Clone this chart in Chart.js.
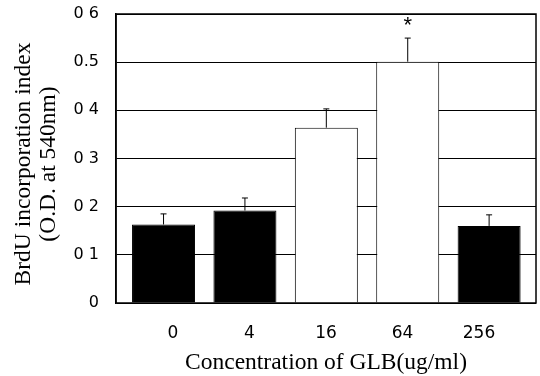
<!DOCTYPE html>
<html>
<head>
<meta charset="utf-8">
<script src="https://cdn.jsdelivr.net/npm/chart.js@4.4.1/dist/chart.umd.min.js"></script>
<style>
  html, body { margin: 0; padding: 0; background: #fff; }
  canvas { display: block; }
</style>
</head>
<body>
<canvas id="chart" width="540" height="376"></canvas>
<script>
// --- datos ---
const categories = ['0', '4', '16', '64', '256'];
const means = [0.163, 0.192, 0.364, 0.501, 0.160];
const errors = [0.022, 0.026, 0.039, 0.049, 0.023];
const barFill = ['#000', '#000', '#fff', '#fff', '#000'];
const starred = [false, false, false, true, false];
const yTickLabels = ['0', '0 1', '0 2', '0 3', '0 4', '0.5', '0 6'];

const yTitle = ['BrdU incorporation index', '(O.D. at 540nm)'];
const xTitle = 'Concentration of GLB(ug/ml)';

// en la figura las barras y las etiquetas no tienen el mismo paso,
// por eso hay dos ejes x (uno para barras, otro para etiquetas)
const X_BARS = { min: -0.584, max: 4.576 };
const X_LABELS = { min: -0.745, max: 4.745 };

const barData = means.map((v, i) => ({ x: i, y: v }));

// barras de error (solo hacia arriba) + asterisco
const errorBars = {
  id: 'errorBars',
  afterDatasetsDraw(chart) {
    const { ctx, scales: { y } } = chart;
    const meta = chart.getDatasetMeta(0);
    ctx.save();
    ctx.strokeStyle = '#000';
    ctx.lineWidth = 1;
    meta.data.forEach((bar, i) => {
      const y0 = y.getPixelForValue(means[i]);
      const y1 = y.getPixelForValue(means[i] + errors[i]);
      ctx.beginPath();
      ctx.moveTo(bar.x, y0);
      ctx.lineTo(bar.x, y1);
      ctx.moveTo(bar.x - 3, y1);
      ctx.lineTo(bar.x + 3, y1);
      ctx.stroke();
      if (starred[i]) {
        ctx.fillStyle = '#000';
        ctx.font = '22px "Liberation Sans"';
        ctx.textAlign = 'center';
        ctx.textBaseline = 'alphabetic';
        ctx.fillText('*', bar.x, y1 - 6);
      }
    });
    ctx.restore();
  }
};

// marco + títulos de ejes
const frameAndTitles = {
  id: 'frameAndTitles',
  afterDraw(chart) {
    const { ctx, chartArea: a } = chart;
    ctx.save();
    ctx.strokeStyle = '#000';
    ctx.lineWidth = 1.5;
    ctx.strokeRect(a.left, a.top, a.right - a.left, a.bottom - a.top);

    ctx.fillStyle = '#000';
    ctx.font = '23.5px "Liberation Serif"';
    ctx.textAlign = 'center';
    ctx.textBaseline = 'alphabetic';
    ctx.fillText(xTitle, 326, 369);

    ctx.translate(0, 164);
    ctx.rotate(-Math.PI / 2);
    ctx.fillText(yTitle[0], 0, 30);
    ctx.fillText(yTitle[1], 0, 55);
    ctx.restore();
  }
};

new Chart(document.getElementById('chart'), {
  type: 'bar',
  data: {
    datasets: [{
      data: barData,
      xAxisID: 'x',
      backgroundColor: barFill,
      borderColor: '#000',
      borderWidth: 1,
      barPercentage: 0.774,
      categoryPercentage: 1
    }]
  },
  options: {
    responsive: false,
    animation: false,
    layout: { padding: { top: 14, right: 4, left: 0, bottom: 0 } },
    plugins: { legend: { display: false }, tooltip: { enabled: false } },
    scales: {
      x: {
        type: 'linear',
        display: false,
        offset: false,
        min: X_BARS.min, max: X_BARS.max
      },
      x2: {
        type: 'linear',
        position: 'bottom',
        offset: false,
        min: X_LABELS.min, max: X_LABELS.max,
        grid: { display: false, drawTicks: false },
        border: { display: false },
        afterBuildTicks: s => { s.ticks = categories.map((c, i) => ({ value: i })); },
        ticks: {
          color: '#000', padding: 20, maxRotation: 0, autoSkip: false,
          font: { family: 'DejaVu Sans', size: 17 },
          callback: v => categories[v]
        },
        afterFit: s => { s.height = 73; s.paddingLeft = 0; s.paddingRight = 0; }
      },
      y: {
        min: 0, max: 0.6,
        grid: { color: '#000', lineWidth: 1, drawTicks: false },
        border: { color: '#000', width: 1.5 },
        ticks: {
          stepSize: 0.1, color: '#000', padding: 17,
          font: { family: 'DejaVu Sans', size: 16 },
          callback: (v, i) => yTickLabels[i]
        },
        afterFit: s => { s.width = 116; s.paddingTop = 0; s.paddingBottom = 0; }
      }
    }
  },
  plugins: [errorBars, frameAndTitles]
});
</script>
</body>
</html>
